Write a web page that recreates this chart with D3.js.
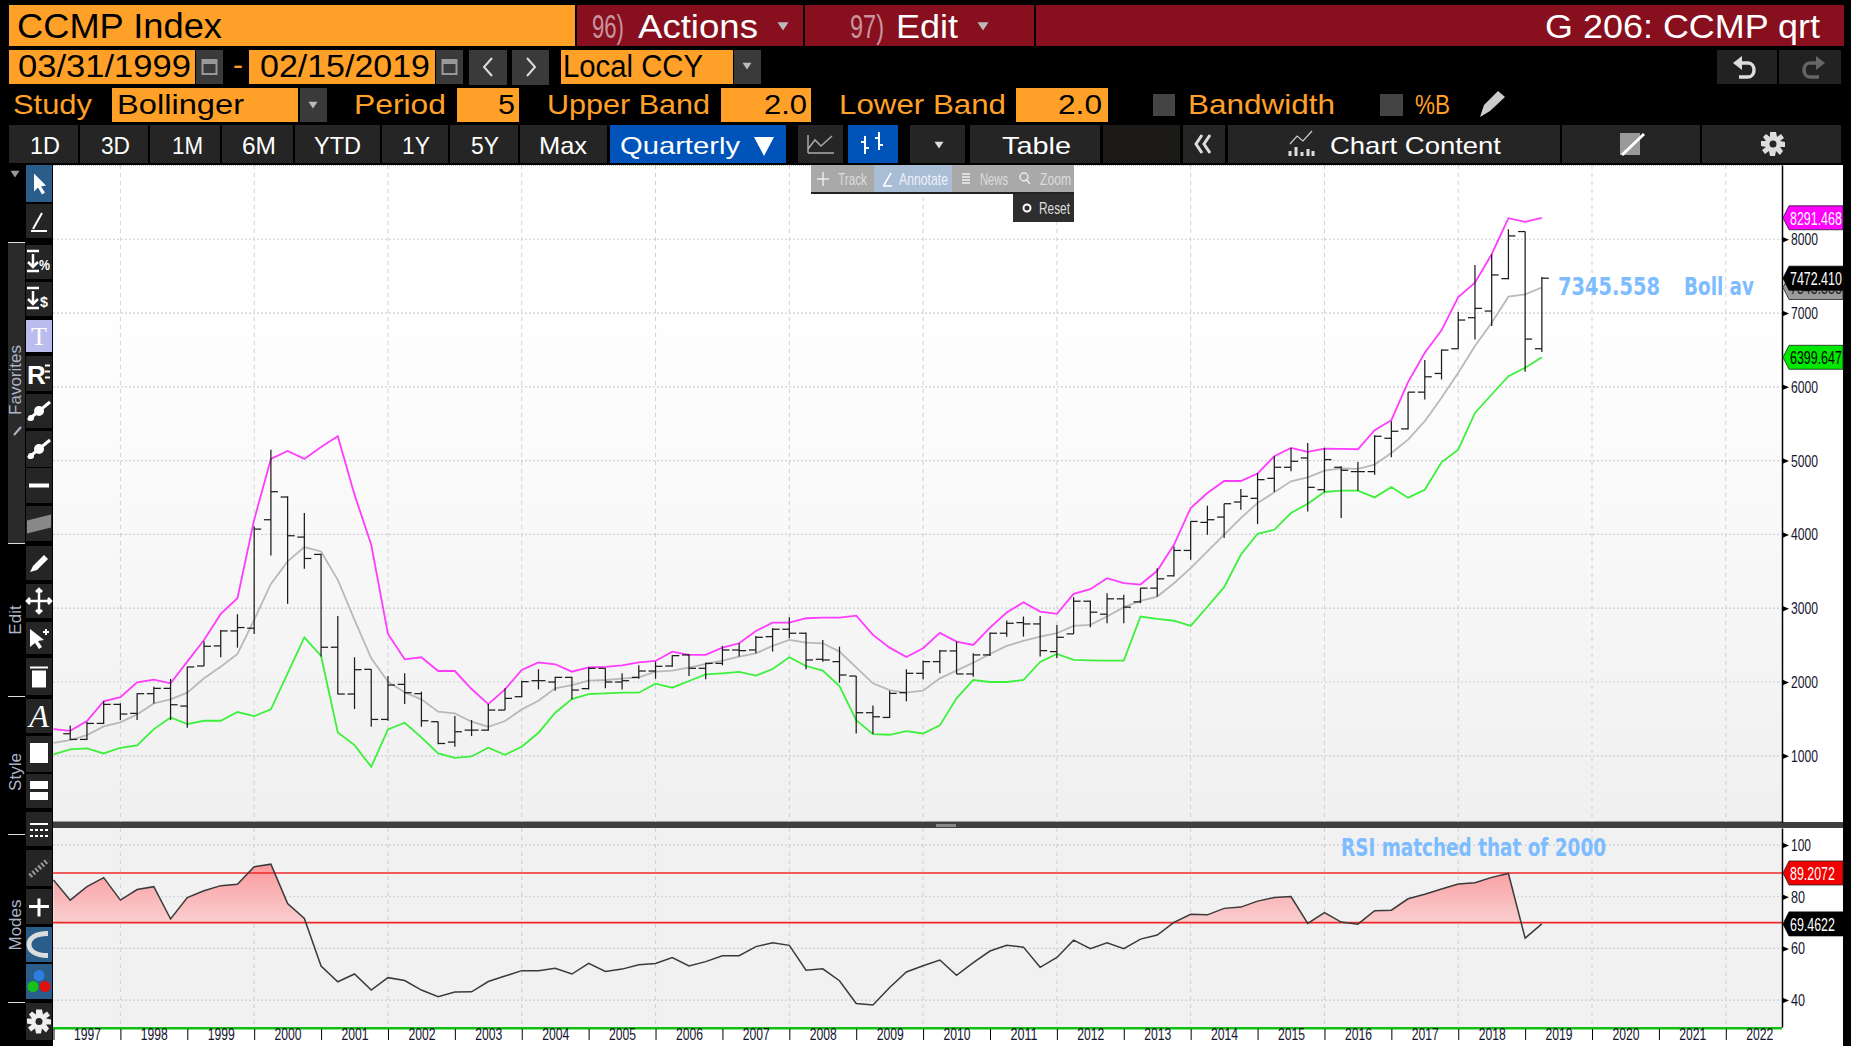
<!DOCTYPE html>
<html>
<head>
<meta charset="utf-8">
<script src="https://cdn.jsdelivr.net/npm/d3@7"></script>
<style>
  html, body { margin: 0; padding: 0; background: #000; overflow: hidden; }
  svg { display: block; }
  text { font-family: "Liberation Sans Narrow", "Liberation Sans", sans-serif; }
</style>
</head>
<body>
<svg id="chart" width="1851" height="1046"></svg>
<script>
// quarterly bars, first bar is 1997 Q1 end, lines start one quarter earlier
const barStart = 1997.25;
const lineStart = 1997;

const openVals = [1299,1222,1439,1697,1575,1842,1914,1674,2217,2489,2692,2729,4199,4507,3964,3729,2471,1837,2172,1493,1968,1842,1462,1186,1348,1348,1620,1801,2018,
  2000,2063,1910,2186,2000,2063,2149,2217,2367,2186,2253,2434,2434,2615,2715,2661,2308,2276,2081,1584,1520,1855,2118,2276,2421,2109,2367,2661,2805,2787,2412,2652,3095,
  2919,3127,3086,3272,3439,3783,4163,4235,4439,4489,4760,4910,5036,4606,4910,4851,4851,5303,5430,5928,6181,6516,6937,7027,7466,8104,6516];
const highVals = [1412,1457,1738,1710,1846,1937,2041,2208,2552,2706,2919,4109,5149,4516,4290,3738,2896,2335,2172,2081,2118,1869,1462,1538,1484,1701,1914,2018,2172,
  2072,2072,2195,2186,2118,2226,2276,2362,2380,2262,2489,2525,2624,2729,2878,2670,2570,2480,2081,1683,1882,2172,2290,2434,2548,2389,2670,2833,2887,2896,2774,3149,3104,
  3204,3181,3272,3543,3837,4176,4389,4416,4615,4833,5059,5172,5240,5172,4923,4982,5344,5534,5928,6362,6507,7014,7652,7797,8136,8104,7489];
const lowVals = [1213,1213,1430,1484,1484,1710,1484,1380,2217,2335,2466,2652,3715,3059,3534,2344,1833,1634,1394,1475,1701,1394,1158,1122,1267,1339,1620,1792,1900,
  1882,1765,1900,1914,1900,2045,2045,2208,2081,2036,2226,2344,2389,2412,2593,2172,2276,1991,1303,1294,1511,1738,2036,2118,2109,2072,2353,2615,2615,2344,2321,2652,2742,
  2796,2796,3068,3158,3430,3656,3996,3950,4335,4140,4575,4855,4312,4570,4222,4593,4810,5045,5421,5828,6100,6516,6643,6824,7457,6204,6471];
const closeVals = [1222,1439,1697,1566,1842,1914,1692,2204,2484,2692,2738,4072,4579,3982,3674,2471,1837,2167,1493,1959,1855,1475,1167,1326,1348,1620,1778,2005,2018,
  2063,1891,2186,2000,2018,2149,2213,2357,2186,2253,2434,2425,2606,2715,2661,2299,2299,2095,1584,1529,1846,2118,2276,2421,2109,2367,2661,2796,2787,2425,2606,3095,2946,
  3127,3014,3272,3398,3783,4176,4199,4416,4516,4742,4910,4991,4638,5014,4869,4851,5330,5398,5928,6136,6498,6905,7063,7516,8045,6647,7472];

const upperBand = [1362,1339,1471,1738,1796,1996,2032,1982,2276,2570,2923,3136,4199,5023,5131,5023,5186,5330,4539,3860,2652,2308,2335,2149,2149,1905,1701,1900,2163,2267,
  2240,2140,2199,2204,2226,2267,2285,2412,2367,2367,2466,2525,2692,2805,2805,2864,2873,2873,2900,2638,2466,2339,2457,2665,2548,2502,2738,2941,3081,2955,2923,3195,3258,
  3407,3339,3321,3507,3860,4358,4561,4724,4724,4824,5059,5172,5118,5163,5158,5154,5412,5548,6063,6462,6765,7217,7412,7797,8285,8235,8291];
const midBand = [1176,1213,1281,1398,1453,1561,1710,1765,1855,2050,2208,2380,2842,3330,3634,3828,3769,3385,2842,2321,2005,1860,1765,1597,1575,1462,1394,1471,1629,1747,
  1914,1959,2018,2027,2045,2063,2140,2154,2195,2244,2290,2344,2389,2489,2570,2534,2525,2412,2199,1982,1891,1855,1882,2050,2154,2262,2380,2489,2557,2615,2661,2760,2774,
  2887,3014,3100,3158,3339,3543,3769,3996,4222,4425,4570,4720,4774,4864,4896,4887,4946,5104,5285,5534,5851,6190,6552,6869,7222,7254,7346];
const lowerBand = [1018,1086,1100,1032,1109,1140,1362,1520,1430,1475,1475,1593,1538,1629,2118,2606,2353,1317,1145,851,1357,1448,1249,1032,973,991,1109,1014,1122,1312,
  1584,1769,1837,1846,1855,1855,1977,1923,2014,2104,2118,2136,2086,2176,2335,2217,2154,1946,1484,1294,1285,1335,1303,1412,1778,2027,2000,2000,2027,2272,2380,2299,2294,
  2290,2290,2887,2855,2830,2760,3020,3285,3724,4009,4063,4290,4416,4575,4593,4593,4502,4643,4498,4606,4977,5149,5647,5896,6145,6258,6400];

const rsiVals = [86.5,78.7,83.9,87.4,78.7,82.8,83.9,71.4,79.7,82.3,84.3,84.8,91.6,92.6,77.4,71.6,53.2,47.1,50.1,43.9,48.7,47.6,43.9,41.3,43.1,43.2,47.2,49.3,51.4,51.4,
  52.3,50.1,54.2,51.1,52,53.7,54.2,56.5,53.2,54.9,57.2,57.2,60.7,62.2,61.2,51.6,52.1,47.5,38.7,38.1,44.9,50.9,53.3,55.5,
  49.6,54.5,59,61.2,60.5,52.7,56.5,63.2,59.9,62.2,59.9,63.6,65.2,70.1,73.2,73,75.5,76,78.3,79.7,80.1,69.7,73.9,70.2,69.4,74.6,74.8,79.2,81,83,84.9,85.4,87.5,89,64,69.5];
const rsiLevels = [89.2, 70];

const priceTicks = [1000,2000,3000,4000,5000,6000,7000,8000];
const rsiTicks = [40,60,80,100];
const yearTicks = d3.range(1997, 2023);
const gridYears = d3.range(1998, 2023, 2);

const W = 1851;
const plot = { left: 53, right: 1782, top: 165, bottom: 822 };
const rsiBox = { top: 828, bottom: 1027 };

const svg = d3.select("#chart");
const defs = svg.append("defs");

const orange = "#ffa028", red = "#870f1e", btn = "#252525", grey = "#3a3a3a";

const x = d3.scaleLinear().domain([1997, 2022.84]).range([plot.left + .5, plot.right]);
const y = d3.scaleLinear().domain([103, 9006]).range([plot.bottom, plot.top]);
const yRsi = d3.scaleLinear().domain([106.6, 29.6]).range([rsiBox.top, rsiBox.bottom]);

const barT = i => barStart + i * .25;
const lineT = i => lineStart + i * .25;

// ---- helpers for the terminal chrome
function box(x0, y0, x1, y1, fill, parent) {
  return (parent || svg).append("rect")
    .attr("x", x0).attr("y", y0).attr("width", x1 - x0).attr("height", y1 - y0).attr("fill", fill);
}
// text squeezed in between two x positions, the terminal font is very narrow
function label(x0, x1, base, str, size, fill, weight) {
  return svg.append("text")
    .attr("x", x0).attr("y", base)
    .attr("font-size", size).attr("fill", fill)
    .attr("font-weight", weight || "normal")
    .attr("textLength", x1 - x0).attr("lengthAdjust", "spacingAndGlyphs")
    .text(str);
}
function tri(cx, cy, r, fill) {
  svg.append("path").attr("d", `M${cx - r},${cy - r * .7}L${cx + r},${cy - r * .7}L${cx},${cy + r * .8}Z`).attr("fill", fill);
}
function glyph(d, cx, cy, fill, stroke, sw) {
  return svg.append("path").attr("d", d).attr("transform", `translate(${cx},${cy})`)
    .attr("fill", fill || "none").attr("stroke", stroke || "none").attr("stroke-width", sw || 0);
}

box(0, 0, W, 1046, "#000");

// ---- row 1
box(9, 5, 575, 46, orange);
label(17, 222, 38, "CCMP Index", 35, "#000");
box(577, 5, 1844, 46, red);
box(803, 5, 805, 46, "#000");
box(1034, 5, 1036, 46, "#000");
label(592, 624, 38, "96)", 33, "#c9939b");
label(638, 758, 38, "Actions", 33, "#fff");
tri(783, 26, 5.5, "#bbb");
label(850, 884, 38, "97)", 33, "#c9939b");
label(896, 958, 38, "Edit", 33, "#fff");
tri(983, 26, 5.5, "#bbb");
label(1545, 1820, 38, "G 206: CCMP qrt", 33, "#fff");

// ---- row 2
box(9, 50, 195, 84, orange);
box(196, 50, 223, 84, grey);
label(18, 191, 77, "03/31/1999", 31, "#000");
label(233, 243, 75, "-", 30, orange);
box(249, 50, 435, 84, orange);
box(436, 50, 463, 84, grey);
label(260, 430, 77, "02/15/2019", 31, "#000");
[209.5, 449.5].forEach(cx => {
  svg.append("rect").attr("x", cx - 7).attr("y", 60).attr("width", 14).attr("height", 14)
    .attr("fill", "none").attr("stroke", "#999").attr("stroke-width", 2);
  box(cx - 7, 60, cx + 7, 64, "#999");
});
box(469, 50, 507, 85, grey);
box(512, 50, 549, 85, grey);
glyph("M4,-9L-4,0L4,9", 488, 67, "none", "#ddd", 2);
glyph("M-4,-9L4,0L-4,9", 531, 67, "none", "#ddd", 2);
box(561, 50, 733, 84, orange);
label(563, 703, 77, "Local CCY", 31, "#000");
box(734, 50, 761, 84, grey);
tri(747, 66, 4.5, "#bbb");
box(1717, 50, 1777, 84, "#222");
box(1779, 50, 1841, 84, "#222");
glyph("M-6,10L3,10C11,10 11,-4 3,-4L-3,-4", 1745, 67, "none", "#ddd", 3.5);
glyph("M-3,-11L-12,-4L-3,3Z", 1745, 67, "#ddd");
glyph("M6,10L-3,10C-11,10 -11,-4 -3,-4L3,-4", 1813, 67, "none", "#666", 3.5);
glyph("M3,-11L12,-4L3,3Z", 1813, 67, "#666");

// ---- row 3
label(13, 92, 114, "Study", 28, orange);
box(112, 88, 298, 122, orange);
label(117, 244, 114, "Bollinger", 28, "#000");
box(300, 88, 327, 122, grey);
tri(313, 105, 4.5, "#bbb");
label(354, 446, 114, "Period", 28, orange);
box(457, 88, 519, 122, orange);
label(498, 515, 114, "5", 28, "#000");
label(547, 710, 114, "Upper Band", 28, orange);
box(721, 88, 811, 122, orange);
label(764, 807, 114, "2.0", 28, "#000");
label(839, 1006, 114, "Lower Band", 28, orange);
box(1016, 88, 1108, 122, orange);
label(1058, 1102, 114, "2.0", 28, "#000");
box(1153, 94, 1175, 116, "#444");
label(1188, 1335, 114, "Bandwidth", 28, orange);
box(1380, 94, 1403, 116, "#444");
label(1415, 1450, 114, "%B", 28, orange);
glyph("M-12,12L-8,0L6,-14L13,-8L-2,6Z", 1492, 105, "#ccc");

// ---- row 4
const spans = [["1D",9,78,30,60],["3D",80,148,101,130],["1M",150,220,172,203],["6M",222,293,242,276],["YTD",295,380,314,361],["1Y",382,448,402,430],["5Y",450,518,471,499],["Max",520,607,539,587]];
spans.forEach(s => {
  box(s[1], 125, s[2], 163, btn);
  label(s[3], s[4], 154, s[0], 24, "#fff");
});
box(610, 125, 786, 163, "#0053b8");
label(620, 740, 154, "Quarterly", 24, "#fff");
svg.append("path").attr("d", "M754,137L774,137L764,156Z").attr("fill", "#fff");
box(798, 125, 843, 163, btn);
glyph("M-13,9L13,9M-13,9L-13,-9M-13,5L-6,-4L0,2L11,-8", 821, 144, "none", "#aaa", 1.5);
box(848, 125, 898, 163, "#0053b8");
glyph("M-8,-8L-8,10M-12,-2L-8,-2M-8,4L-4,4M6,-12L6,6M2,-6L6,-6M6,1L10,1", 873, 144, "none", "#fff", 2);
box(910, 125, 965, 163, btn);
tri(939, 145, 4.5, "#ddd");
box(970, 125, 1100, 163, btn);
label(1002, 1071, 154, "Table", 24, "#fff");
box(1103, 125, 1180, 163, "#1c1a16");
box(1183, 125, 1225, 163, btn);
glyph("M0,-9L-6,0L0,9M8,-9L2,0L8,9", 1202, 144, "none", "#ddd", 3);
box(1228, 125, 1560, 163, btn);
glyph("M-12,12L-12,7M-6,12L-6,3M0,12L0,8M6,12L6,5M11,12L11,7", 1302, 144, "none", "#ddd", 3);
glyph("M-12,0L-5,-8L1,-3L10,-13", 1302, 144, "none", "#ccc", 1.2);
label(1330, 1501, 154, "Chart Content", 24, "#fff");
box(1562, 125, 1700, 163, btn);
glyph("M-12,-11L8,-11L8,11L-12,11Z", 1632, 144, "#999");
glyph("M-10,11L12,-10", 1632, 144, "none", "#fff", 3);
box(1702, 125, 1841, 163, btn);
const gearD = "M-3,-12L3,-12L4,-7L8,-10L11,-6L7,-3L12,-2L12,3L7,3L10,7L7,11L3,7L2,12L-3,12L-4,7L-8,10L-11,6L-7,3L-12,2L-12,-3L-7,-3L-10,-7L-7,-10L-3,-7Z";
glyph(gearD, 1773, 144, "#ddd");
svg.append("circle").attr("cx", 1773).attr("cy", 144).attr("r", 3.5).attr("fill", btn);

// ---- left tool strip
box(8, 243, 25, 543, "#2a2a2a");
[242, 543, 696, 834, 1002].forEach(v => box(8, v, 25, v + 1, "#ddd"));
[["Favorites", 380], ["Edit", 620], ["Style", 772], ["Modes", 925]].forEach(s => {
  svg.append("text").attr("transform", `translate(21,${s[1]}) rotate(-90)`)
    .attr("text-anchor", "middle").attr("font-size", 17).attr("fill", "#aeb4c8").text(s[0]);
});
glyph("M-3,5L4,-3", 17, 430, "none", "#aeb4c8", 2);
tri(15, 174, 4.5, "#999");

const tools = [[165,202,"#2a5d8a"],[204,238,btn],[245,279,btn],[282,316,btn],[320,352,"#b9bcec"],[356,391,btn],[394,428,btn],[431,467,btn],[468,503,btn],[506,541,btn],
  [546,580,btn],[584,618,btn],[622,654,btn],[658,695,btn],[699,733,btn],[736,772,btn],[774,808,btn],[812,846,btn],[850,886,btn],[889,924,btn],[927,962,"#2a5d8a"],[964,999,"#2a5d8a"],[1003,1040,btn]];
tools.forEach(t => box(26, t[0], 52, t[1], t[2]));
const mid = t => (t[0] + t[1]) / 2;
const cxT = 39;
glyph("M-5,-10L-5,8L-1,4L3,11L6,9L2,3L7,2Z", cxT, mid(tools[0]), "#fff");
glyph("M-6,8L3,-8M-8,10L8,10", cxT, mid(tools[1]), "none", "#fff", 2);
glyph("M-9,-11L3,-11M-3,-8L-3,5M-8,0L-3,5L2,0M-9,9L3,9", cxT - 3, mid(tools[2]), "none", "#fff", 2.5);
label(39, 50, mid(tools[2]) + 8, "%", 14, "#fff", "bold");
glyph("M-9,-11L3,-11M-3,-8L-3,5M-8,0L-3,5L2,0M-9,9L3,9", cxT - 3, mid(tools[3]), "none", "#fff", 2.5);
label(40, 48, mid(tools[3]) + 8, "$", 15, "#fff", "bold");
svg.append("text").attr("x", cxT).attr("y", mid(tools[4]) + 9).attr("text-anchor", "middle")
  .attr("font-size", 26).style("font-family", "Liberation Serif").attr("fill", "#fff").text("T");
svg.append("text").attr("x", 27).attr("y", mid(tools[5]) + 10).attr("font-size", 26).attr("font-weight", "bold")
  .style("font-family", "Liberation Sans").attr("fill", "#fff").text("R");
glyph("M0,-8L5,-8M0,-2L5,-2M0,4L5,4", 45, mid(tools[5]), "none", "#fff", 2);
[6, 7].forEach(k => {
  glyph("M-11,9L11,-9", cxT, mid(tools[k]), "none", "#fff", 3);
  svg.append("circle").attr("cx", cxT).attr("cy", mid(tools[k])).attr("r", 5).attr("fill", "#fff");
  svg.append("circle").attr("cx", cxT - 8).attr("cy", mid(tools[k]) + 7).attr("r", 3).attr("fill", "#fff");
});
box(cxT - 10, mid(tools[8]) - 2, cxT + 10, mid(tools[8]) + 2, "#fff");
glyph("M-12,-3L12,-9L12,4L-12,10Z", cxT, mid(tools[9]), "#888");
glyph("M-9,9L-6,3L5,-8L9,-4L-2,7Z", cxT, mid(tools[10]), "#fff");
glyph("M-12,0L12,0M0,-12L0,12M-9,-3L-12,0L-9,3M9,-3L12,0L9,3M-3,-9L0,-12L3,-9M-3,9L0,12L3,9", cxT, mid(tools[11]), "none", "#fff", 2.5);
glyph("M-8,-9L-8,9L-3,5L1,11L4,9L0,3L6,2Z", cxT - 1, mid(tools[12]), "#fff");
glyph("M7,-9L7,-3M4,-6L10,-6", cxT, mid(tools[12]), "none", "#fff", 2);
box(cxT - 7, mid(tools[13]) - 6, cxT + 7, mid(tools[13]) + 11, "#fff");
box(cxT - 9, mid(tools[13]) - 10, cxT + 9, mid(tools[13]) - 8, "#fff");
svg.append("text").attr("x", cxT).attr("y", mid(tools[14]) + 11).attr("text-anchor", "middle")
  .attr("font-size", 32).attr("font-style", "italic").style("font-family", "Liberation Serif").attr("fill", "#fff").text("A");
box(cxT - 9, mid(tools[15]) - 11, cxT + 9, mid(tools[15]) + 9, "#fff");
box(cxT - 9, mid(tools[16]) - 10, cxT + 9, mid(tools[16]) - 2, "#fff");
box(cxT - 9, mid(tools[16]) + 1, cxT + 9, mid(tools[16]) + 9, "#fff");
glyph("M-9,-5L9,-5", cxT, mid(tools[17]), "none", "#fff", 2);
glyph("M-9,1L9,1M-9,7L9,7", cxT, mid(tools[17]), "none", "#fff", 2).attr("stroke-dasharray", "3,2");
glyph("M-9,8L9,-8", cxT, mid(tools[18]), "none", "#999", 5).attr("stroke-dasharray", "2,2");
glyph("M-10,0L10,0M0,-8L0,10", cxT, mid(tools[19]), "none", "#fff", 3);
glyph("M9,-11C-4,-11 -10,-6 -10,0C-10,6 -4,11 9,11", cxT, mid(tools[20]), "none", "#ddd", 5);
[[0, -6, "#2f7de0"], [-6, 5, "#18c018"], [6, 5, "#e01010"]].forEach(d => {
  svg.append("circle").attr("cx", cxT + d[0]).attr("cy", mid(tools[21]) + d[1]).attr("r", 5.5).attr("fill", d[2]);
});
glyph(gearD, cxT, mid(tools[22]), "#eee");
svg.append("circle").attr("cx", cxT).attr("cy", mid(tools[22])).attr("r", 3.5).attr("fill", btn);

// ---- plot backgrounds
const grad = defs.append("linearGradient").attr("id", "plotBg").attr("x1", 0).attr("y1", 0).attr("x2", 0).attr("y2", 1);
grad.append("stop").attr("offset", "0.2").attr("stop-color", "#ffffff");
grad.append("stop").attr("offset", "1").attr("stop-color", "#f0f0f0");
box(plot.left, plot.top, plot.right, plot.bottom, "url(#plotBg)");
box(plot.left, plot.bottom, W - 8, rsiBox.top, "#3f3f3f");
box(plot.left, plot.bottom - 1, W - 8, plot.bottom, "#999");
box(936, 824, 956, 827, "#888");
box(plot.left, rsiBox.top, plot.right, rsiBox.bottom, "#f1f1f1");
box(plot.right, plot.top, 1843, 822, "#fff");
box(plot.right, rsiBox.top, 1843, 1046, "#fff");
box(plot.left, rsiBox.bottom + 2, plot.right, 1046, "#fff");
box(plot.left, rsiBox.bottom, plot.right, rsiBox.bottom + 2.5, "#10c010");

defs.append("clipPath").attr("id", "clipTop").append("rect")
  .attr("x", plot.left).attr("y", plot.top).attr("width", plot.right - plot.left).attr("height", plot.bottom - plot.top);
defs.append("clipPath").attr("id", "clipRsi").append("rect")
  .attr("x", plot.left).attr("y", rsiBox.top).attr("width", plot.right - plot.left).attr("height", rsiBox.bottom - rsiBox.top);
defs.append("clipPath").attr("id", "clipOver").append("rect")
  .attr("x", plot.left).attr("y", rsiBox.top).attr("width", plot.right - plot.left).attr("height", yRsi(rsiLevels[1]) - rsiBox.top);

// ---- grids
const gridTop = svg.append("g");
gridTop.selectAll("line.h").data(priceTicks).join("line").attr("class", "h")
  .attr("x1", plot.left).attr("x2", plot.right).attr("y1", d => y(d)).attr("y2", d => y(d))
  .attr("stroke", "#c9cedb").attr("stroke-width", 1.2).attr("stroke-dasharray", "2,2");
gridTop.selectAll("line.v").data(gridYears).join("line").attr("class", "v")
  .attr("x1", d => x(d)).attr("x2", d => x(d)).attr("y1", plot.top).attr("y2", plot.bottom)
  .attr("stroke", "#d0d0d4").attr("stroke-width", 1).attr("stroke-dasharray", "4,4");
gridTop.append("line").attr("x1", plot.left).attr("x2", plot.right).attr("y1", plot.top + .5).attr("y2", plot.top + .5)
  .attr("stroke", "#bbb").attr("stroke-dasharray", "1,1");

const gridRsi = svg.append("g");
gridRsi.selectAll("line.h").data(rsiTicks).join("line").attr("class", "h")
  .attr("x1", plot.left).attr("x2", plot.right).attr("y1", d => yRsi(d)).attr("y2", d => yRsi(d))
  .attr("stroke", "#c9cedb").attr("stroke-width", 1.2).attr("stroke-dasharray", "2,2");
gridRsi.selectAll("line.v").data(gridYears).join("line").attr("class", "v")
  .attr("x1", d => x(d)).attr("x2", d => x(d)).attr("y1", rsiBox.top).attr("y2", rsiBox.bottom)
  .attr("stroke", "#d0d0d4").attr("stroke-width", 1).attr("stroke-dasharray", "4,4");

// ---- bollinger lines
const line = d3.line().x((d, i) => x(lineT(i))).y(d => y(d));
const pricePane = svg.append("g").attr("clip-path", "url(#clipTop)");
pricePane.append("path").datum(midBand).attr("d", line).attr("fill", "none").attr("stroke", "#b9b9b9").attr("stroke-width", 1.8);
pricePane.append("path").datum(upperBand).attr("d", line).attr("fill", "none").attr("stroke", "#ff3cff").attr("stroke-width", 1.8);
pricePane.append("path").datum(lowerBand).attr("d", line).attr("fill", "none").attr("stroke", "#3cf03c").attr("stroke-width", 1.8);

// ---- ohlc bars
const bars = pricePane.selectAll("g.bar").data(highVals).join("g").attr("class", "bar")
  .attr("stroke", "#1c1c1c").attr("stroke-width", 1.25);
bars.append("line").attr("x1", (d, i) => x(barT(i))).attr("x2", (d, i) => x(barT(i)))
  .attr("y1", d => y(d)).attr("y2", (d, i) => y(lowVals[i]));
bars.append("line").attr("x1", (d, i) => x(barT(i)) - 7).attr("x2", (d, i) => x(barT(i)))
  .attr("y1", (d, i) => y(openVals[i])).attr("y2", (d, i) => y(openVals[i]));
bars.append("line").attr("x1", (d, i) => x(barT(i))).attr("x2", (d, i) => x(barT(i)) + 7)
  .attr("y1", (d, i) => y(closeVals[i])).attr("y2", (d, i) => y(closeVals[i]));

// ---- rsi pane
const rsiGrad = defs.append("linearGradient").attr("id", "rsiFill").attr("gradientUnits", "userSpaceOnUse")
  .attr("x1", 0).attr("x2", 0).attr("y1", yRsi(92)).attr("y2", yRsi(70));
rsiGrad.append("stop").attr("offset", "0").attr("stop-color", "#fb9a9e");
rsiGrad.append("stop").attr("offset", "1").attr("stop-color", "#f9cfd0");

const area = d3.area().x((d, i) => x(lineT(i))).y0(yRsi(rsiLevels[1])).y1(d => yRsi(d));
svg.append("path").datum(rsiVals).attr("clip-path", "url(#clipOver)").attr("d", area).attr("fill", "url(#rsiFill)");
svg.append("g").selectAll("line").data(rsiLevels).join("line")
  .attr("x1", plot.left).attr("x2", plot.right).attr("y1", d => yRsi(d)).attr("y2", d => yRsi(d))
  .attr("stroke", "#f02828").attr("stroke-width", 1.6);
svg.append("path").datum(rsiVals).attr("clip-path", "url(#clipRsi)")
  .attr("d", d3.line().x((d, i) => x(lineT(i))).y(d => yRsi(d)))
  .attr("fill", "none").attr("stroke", "#3a3a3a").attr("stroke-width", 1.5);

// ---- axes
function sideAxis(scale, ticks, widths) {
  const g = svg.append("g").attr("transform", `translate(${plot.right},0)`)
    .call(d3.axisRight(scale).tickValues(ticks).tickSize(0).tickPadding(9).tickFormat(d3.format("d")));
  g.select(".domain").attr("stroke", "#000").attr("stroke-width", 1.5);
  g.selectAll("text").attr("font-size", 17).attr("fill", "#14142e")
    .style("font-family", '"Liberation Sans Narrow","Liberation Sans"')
    .attr("textLength", d => widths(d)).attr("lengthAdjust", "spacingAndGlyphs");
  g.selectAll(".tick").append("path").attr("d", "M0,-3L7,0L0,3Z").attr("fill", "#000");
  return g;
}
sideAxis(y, priceTicks, () => 27);
sideAxis(yRsi, rsiTicks, d => d === 100 ? 20 : 14);

const xAxis = svg.append("g").attr("transform", `translate(0,${rsiBox.bottom + 2})`)
  .call(d3.axisBottom(x).tickValues(yearTicks).tickSize(11).tickFormat(d3.format("d")));
xAxis.select(".domain").remove();
xAxis.selectAll("line").attr("stroke", "#000").attr("stroke-width", 1);
xAxis.selectAll("text").attr("x", (x(1) - x(0)) / 2).attr("y", 0).attr("dy", "0.71em")
  .attr("font-size", 16).attr("fill", "#14142e")
  .style("font-family", '"Liberation Sans Narrow","Liberation Sans"')
  .attr("textLength", 27).attr("lengthAdjust", "spacingAndGlyphs");

// ---- value flags on the right
const flags = [
  { v: midBand[midBand.length - 1], s: "7345.558", scale: y, fill: "#9a9a9a", text: "#222" },
  { v: upperBand[upperBand.length - 1], s: "8291.468", scale: y, fill: "#ff00ff", text: "#fff" },
  { v: closeVals[closeVals.length - 1], s: "7472.410", scale: y, fill: "#000", text: "#fff" },
  { v: lowerBand[lowerBand.length - 1], s: "6399.647", scale: y, fill: "#00e800", text: "#000" },
  { v: rsiLevels[0], s: "89.2072", scale: yRsi, fill: "#f00000", text: "#fff" },
  { v: rsiVals[rsiVals.length - 1], s: "69.4622", scale: yRsi, fill: "#000", text: "#fff" }
];
const flag = svg.append("g").selectAll("g").data(flags).join("g")
  .attr("transform", d => `translate(${plot.right + 1},${d.scale(d.v)})`);
flag.append("path").attr("d", "M0,0L6,-12L60,-12L60,12L6,12Z").attr("fill", d => d.fill).attr("stroke", d => d.fill === "#000" ? "#000" : "#222").attr("stroke-width", .8);
// squeezed with a scale, not textLength, so the box of the text stays inside the flag
flag.append("text").attr("transform", "translate(7,0) scale(.655,1)").attr("dy", "0.36em").attr("font-size", 19)
  .attr("fill", d => d.text)
  .text(d => d.s);

// ---- notes written on the chart
const noteFont = "DejaVu Sans";
[[1558, 1660, 295, "7345.558"], [1684, 1754, 295, "Boll av"], [1341, 1606, 856, "RSI matched that of 2000"]].forEach(n => {
  label(n[0], n[1], n[2], n[3], 24, "#7cbcff", "bold").style("font-family", noteFont);
});

// ---- floating chart toolbar
box(811, 165, 874, 192, "#a9a9a9");
box(874, 165, 952, 192, "#a9bdd4");
box(952, 165, 1074, 192, "#a9a9a9");
box(811, 192, 1074, 194, "#222");
box(1013, 194, 1074, 222, "#2e2e2e");
label(838, 867, 185, "Track", 17, "#dcdcdc");
label(899, 948, 185, "Annotate", 17, "#eef2f8");
label(980, 1008, 185, "News", 17, "#dcdcdc");
label(1040, 1071, 185, "Zoom", 17, "#dcdcdc");
label(1039, 1070, 214, "Reset", 17, "#ddd");
glyph("M-6,0L6,0M0,-7L0,7", 823, 179, "none", "#eee", 1.4);
glyph("M-4,6L3,-6M-5,7L4,7", 888, 179, "none", "#fff", 1.5);
glyph("M-4,-5L4,-5M-4,-2L4,-2M-4,1L4,1M-4,4L4,4", 966, 179, "none", "#eee", 1.4);
svg.append("circle").attr("cx", 1024).attr("cy", 177).attr("r", 4).attr("fill", "none").attr("stroke", "#eee").attr("stroke-width", 1.4);
glyph("M2,2L6,7", 1024, 177, "none", "#eee", 1.4);
svg.append("circle").attr("cx", 1027).attr("cy", 208).attr("r", 3.5).attr("fill", "none").attr("stroke", "#fff").attr("stroke-width", 2);
</script>
</body>
</html>
